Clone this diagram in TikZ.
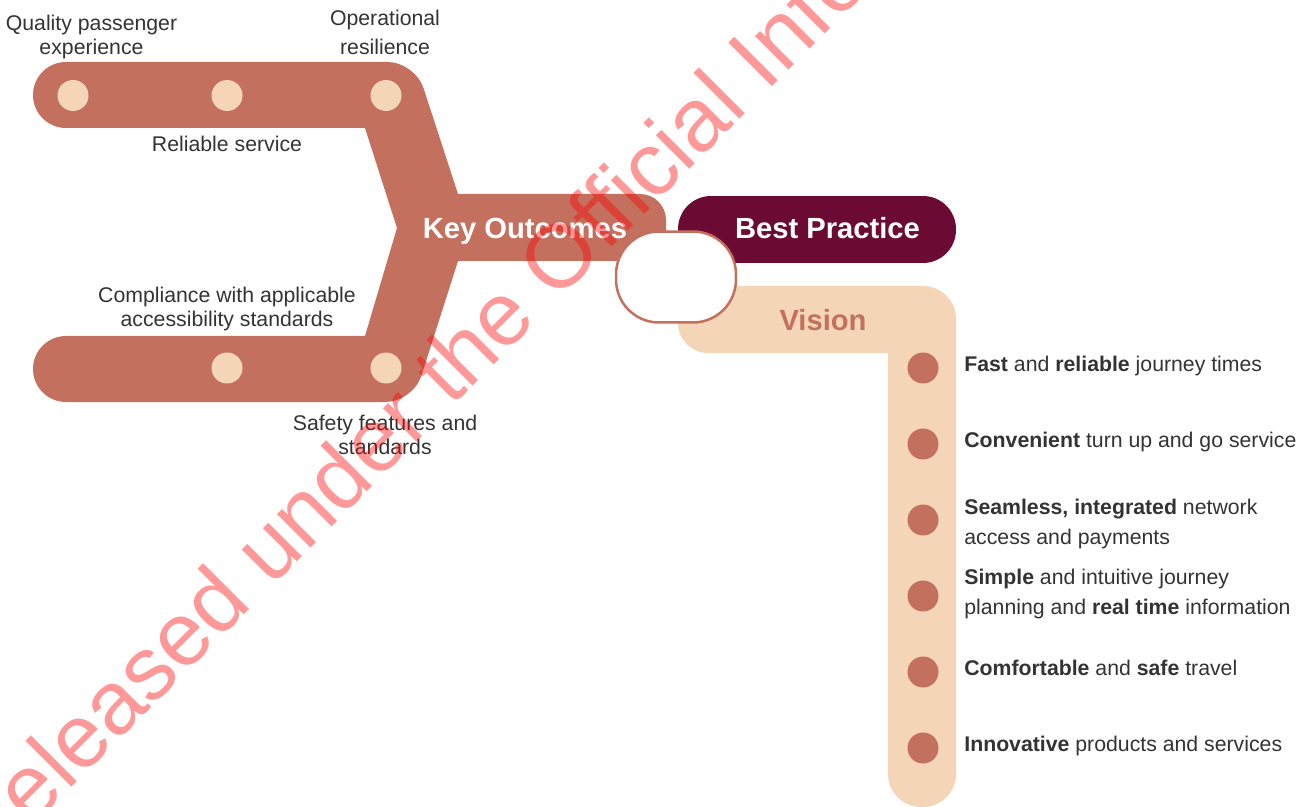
\documentclass[tikz,border=0pt]{standalone}
\usepackage{fontspec}
\setmainfont{Liberation Sans}
\definecolor{outcome}{HTML}{C4705F}
\definecolor{visionband}{HTML}{F5D5B8}
\definecolor{practice}{HTML}{6B0A32}
\definecolor{labeltext}{HTML}{333333}
\tikzset{
 paledot/.style={circle,fill=visionband,minimum size=0.62cm,inner sep=0},
 darkdot/.style={circle,fill=outcome,minimum size=0.62cm,inner sep=0},
 sidelabel/.style={labeltext,inner sep=0,align=center,font=\fontsize{12.1}{13.7}\selectfont},
 tallabel/.style={labeltext,inner sep=0,align=center,font=\fontsize{12.1}{16.5}\selectfont},
 visionlabel/.style={labeltext,inner sep=0,align=left,anchor=west,font=\fontsize{12.1}{17}\selectfont},
 headlabel/.style={inner sep=0,font=\fontsize{16.6}{20}\selectfont\bfseries}
}
\begin{document}
\begin{tikzpicture}[x=0.02cm,y=-0.02cm]
 	\useasboundingbox (0,0) rectangle (1311,807);
 	\clip (0,0) rectangle (1311,807);
 	% outcomes shape
 	\fill[outcome] (33,95) [rounded corners=0.66cm] -- (33,62) [rounded corners=0.55cm] -- (415,62) [sharp corners] -- (458,194) [rounded corners=0.52cm] -- (666,194) -- (666,261) [sharp corners] -- (458,261) [rounded corners=0.55cm] -- (413,402) [rounded corners=0.66cm] -- (33,402) -- (33,336) [sharp corners] -- (365,336) -- (397,228) -- (365,128) [rounded corners=0.66cm] -- (33,128) [sharp corners] -- cycle;
 	% vision shape
 	\fill[visionband] (678,286) [rounded corners=0.66cm] -- (956,286) -- (956,807) -- (888,807) [sharp corners] -- (888,353) [rounded corners=0.6cm] -- (678,353) [sharp corners] -- cycle;
 	\node[fill=practice,rounded corners=0.66cm,minimum width=5.56cm,minimum height=1.34cm,inner sep=0] (practicebox) at (817,229.5) {};
 	\node[fill=white,draw=outcome,line width=0.05cm,rounded corners=0.86cm,minimum width=2.4cm,minimum height=1.82cm,inner sep=0] (junction) at (676,277) {};
 	% dots on the arms
 	\node[paledot] (passenger) at (73,95.5) {};
 	\node[paledot] (reliable) at (227,95.5) {};
 	\node[paledot] (resilience) at (386,95.5) {};
 	\node[paledot] (access) at (227,368) {};
 	\node[paledot] (safety) at (386,368) {};
 	% dots on the vision
 	\node[darkdot] (fast) at (923,368) {};
 	\node[darkdot] (convenient) at (923,444) {};
 	\node[darkdot] (seamless) at (923,520) {};
 	\node[darkdot] (simple) at (923,596) {};
 	\node[darkdot] (comfortable) at (923,672) {};
 	\node[darkdot] (innovative) at (923,748) {};
 	% headings
 	\node[headlabel,white] (outcomes) at (525,231) {Key Outcomes};
 	\node[headlabel,white] (best) at (827.5,228.5) {Best Practice};
 	\node[headlabel,outcome] (vision) at (823,320) {Vision};
 	% labels of the arms
 	\node[sidelabel] (passengertext) at (91.5,37) {Quality passenger\\experience};
 	\node[tallabel] (resiliencetext) at (385,32) {Operational\\resilience};
 	\node[sidelabel] (reliabletext) at (227,144) {Reliable service};
 	\node[sidelabel] (accesstext) at (227,309) {Compliance with applicable\\accessibility standards};
 	\node[sidelabel] (safetytext) at (385,435) {Safety features and\\standards};
 	% labels of the vision
 	\node[visionlabel] (fasttext) at (964,366) {\textbf{Fast} and \textbf{reliable} journey times};
 	\node[visionlabel] (convenienttext) at (964,442) {\textbf{Convenient} turn up and go service};
 	\node[visionlabel] (seamlesstext) at (964,524) {\textbf{Seamless, integrated} network\\access and payments};
 	\node[visionlabel] (simpletext) at (964,594) {\textbf{Simple} and intuitive journey\\planning and \textbf{real time} information};
 	\node[visionlabel] (comfortabletext) at (964,668) {\textbf{Comfortable} and \textbf{safe} travel};
 	\node[visionlabel] (innovativetext) at (964,746) {\textbf{Innovative} products and services};
 	% watermark
 	\node[red,opacity=0.4,rotate=45,anchor=base west,inner sep=0,font=\fontsize{51}{51}\selectfont] (stamp) at (-14,873) {Released under the Official Information Act};
\end{tikzpicture}
\end{document}
